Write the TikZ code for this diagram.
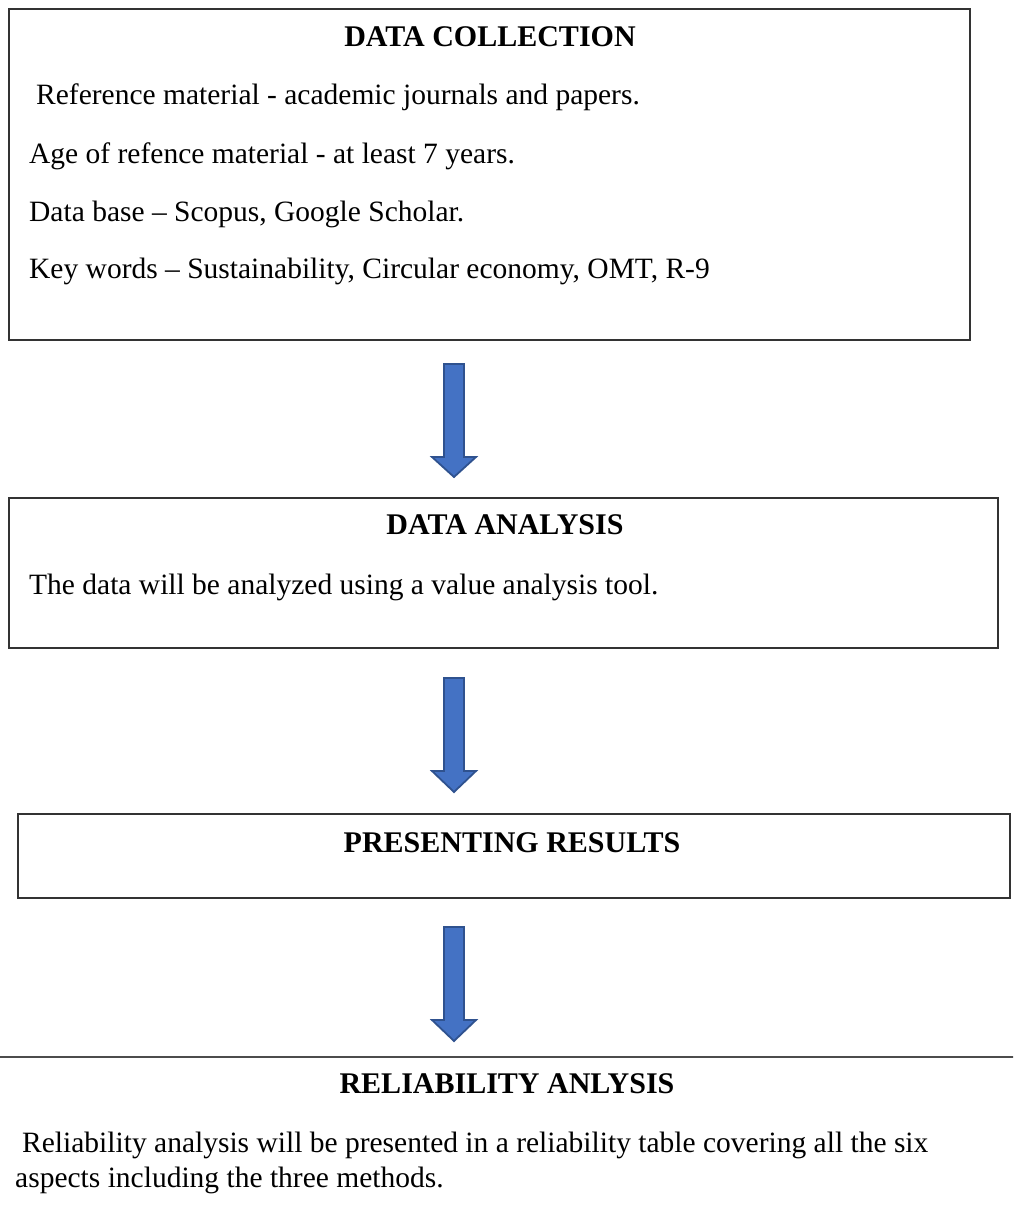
\documentclass[tikz,border=0pt]{standalone}
\usepackage{fontspec}
\setmainfont{Liberation Serif}
\definecolor{arrowblue}{HTML}{4472C4}
\definecolor{arrowedge}{HTML}{2F528F}
\begin{document}
\begin{tikzpicture}[x=1pt,y=-1pt,font=\fontsize{29.5}{35}\selectfont,
    box/.style={draw=black!80,line width=1.5pt,inner sep=0,anchor=north west},
    title/.style={font=\fontsize{30}{35}\selectfont\bfseries,anchor=base,inner sep=0},
    textline/.style={anchor=base west,inner sep=0},
    blockarrow/.style={draw=arrowedge,fill=arrowblue,line width=1.8pt,line join=miter}]
    \clip (0,0) rectangle (1013,1224);
    \node[box,minimum width=961,minimum height=331] (collection) at (8,8) {};
    \node[box,minimum width=989,minimum height=150] (analysis) at (8,497) {};
    \node[box,minimum width=992,minimum height=84] (results) at (17,813) {};
    \node[box,draw=black!70,minimum width=1030,minimum height=300] (reliability) at (-8,1056) {};
    \node[title] (collectionTitle) at (490,46) {DATA COLLECTION};
    \node[textline] (refMaterial) at (36,104) {Reference material - academic journals and papers.};
    \node[textline] (refAge) at (29,163) {Age of refence material - at least 7 years.};
    \node[textline] (dataBase) at (29,221) {Data base -- Scopus, Google Scholar.};
    \node[textline] (keyWords) at (29,278) {Key words -- Sustainability, Circular economy, OMT, R-9};
    \node[title] (analysisTitle) at (505,534) {DATA ANALYSIS};
    \node[textline] (analysisText) at (29,594) {The data will be analyzed using a value analysis tool.};
    \node[title] (resultsTitle) at (512,852) {PRESENTING RESULTS};
    \node[title] (reliabilityTitle) at (507,1093) {RELIABILITY ANLYSIS};
    \node[textline] (reliabilityA) at (22,1152) {Reliability analysis will be presented in a reliability table covering all the six};
    \node[textline] (reliabilityB) at (15,1187) {aspects including the three methods.};
    \coordinate (arrowA) at (454,364);
    \coordinate (arrowB) at (454,678);
    \coordinate (arrowC) at (454,927);
    \draw[blockarrow] (arrowA) ++(-10,0) -- ++(20,0) -- ++(0,93) -- ++(12,0) -- ++(-22,20) -- ++(-22,-20) -- ++(12,0) -- cycle;
    \draw[blockarrow] (arrowB) ++(-10,0) -- ++(20,0) -- ++(0,93) -- ++(12,0) -- ++(-22,21) -- ++(-22,-21) -- ++(12,0) -- cycle;
    \draw[blockarrow] (arrowC) ++(-10,0) -- ++(20,0) -- ++(0,93) -- ++(12,0) -- ++(-22,21) -- ++(-22,-21) -- ++(12,0) -- cycle;
\end{tikzpicture}
\end{document}
